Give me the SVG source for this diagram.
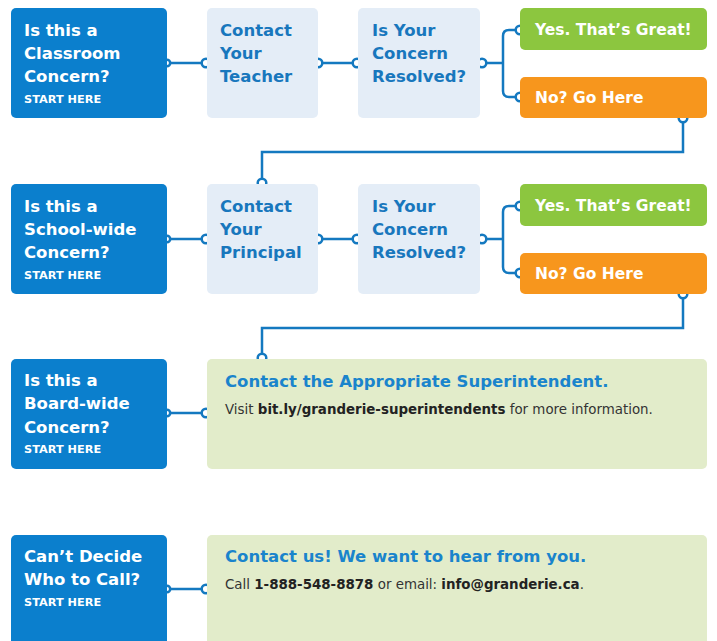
<svg xmlns="http://www.w3.org/2000/svg" width="717" height="641" viewBox="0 0 717 641">
<style>
.blue{fill:#0b7fcd}
.light{fill:#e4edf7}
.pale{fill:#e2ecca}
.green{fill:#8cc63f}
.orange{fill:#f7961d}
text{font-family:"DejaVu Sans","Liberation Sans",sans-serif;font-weight:bold}
.wt{fill:#ffffff;font-size:16.5px}
.sh{fill:#ffffff;font-size:11.3px}
.bt{fill:#1877bd;font-size:16.5px}
.ht{fill:#1a84cc;font-size:16.5px}
.st{fill:#333333;font-size:13.4px;font-weight:normal}
.st tspan.b{font-weight:bold;fill:#222222}
.ct{fill:#ffffff;font-size:15.5px}
.line{fill:none;stroke:#1479c0;stroke-width:2.5}
.dot{fill:#ffffff;stroke:#1479c0;stroke-width:2.5}
</style>
<rect width="717" height="641" fill="#ffffff"/>
<g id="connectors">
<path class="line" d="M167 63H206M318 63H357M482 63H503M520 30H509Q503 30 503 36V91Q503 97 509 97H520"/>
<path class="line" d="M683 118V152H262V183"/>
<path class="line" d="M167 239H206M318 239H357M482 239H503M520 206H509Q503 206 503 212V267Q503 273 509 273H520"/>
<path class="line" d="M683 294V328H262V358"/>
<path class="line" d="M167 413H206M167 589H206"/>
<circle class="dot" cx="167" cy="63" r="3.2"/><circle class="dot" cx="206" cy="63" r="4.3"/>
<circle class="dot" cx="318" cy="63" r="4.3"/><circle class="dot" cx="357" cy="63" r="4.3"/>
<circle class="dot" cx="482" cy="63" r="4.3"/>
<circle class="dot" cx="520" cy="30" r="4.3"/><circle class="dot" cx="520" cy="97" r="4.3"/>
<circle class="dot" cx="683" cy="118" r="4.3"/><circle class="dot" cx="262" cy="183" r="4.3"/>
<circle class="dot" cx="167" cy="239" r="3.2"/><circle class="dot" cx="206" cy="239" r="4.3"/>
<circle class="dot" cx="318" cy="239" r="4.3"/><circle class="dot" cx="357" cy="239" r="4.3"/>
<circle class="dot" cx="482" cy="239" r="4.3"/>
<circle class="dot" cx="520" cy="206" r="4.3"/><circle class="dot" cx="520" cy="273" r="4.3"/>
<circle class="dot" cx="683" cy="294" r="4.3"/><circle class="dot" cx="262" cy="358" r="4.3"/>
<circle class="dot" cx="167" cy="413" r="3.2"/><circle class="dot" cx="206" cy="413" r="4.3"/>
<circle class="dot" cx="167" cy="589" r="3.2"/><circle class="dot" cx="206" cy="589" r="4.3"/>
</g>
<g id="classroom">
<rect class="blue" x="11" y="8" width="156" height="110" rx="5"/>
<text class="wt" x="24" y="36">Is this a</text>
<text class="wt" x="24" y="59">Classroom</text>
<text class="wt" x="24" y="82">Concern?</text>
<text class="sh" x="24" y="103">START HERE</text>
</g>
<g id="teacher">
<rect class="light" x="207" y="8" width="111" height="110" rx="5"/>
<text class="bt" x="220" y="36">Contact</text>
<text class="bt" x="220" y="59">Your</text>
<text class="bt" x="220" y="82">Teacher</text>
</g>
<g id="resolved1">
<rect class="light" x="358" y="8" width="122" height="110" rx="5"/>
<text class="bt" x="372" y="36">Is Your</text>
<text class="bt" x="372" y="59">Concern</text>
<text class="bt" x="372" y="82">Resolved?</text>
</g>
<g id="yes1">
<rect class="green" x="520" y="8" width="187" height="42" rx="5"/>
<text class="ct" x="535" y="35">Yes. That’s Great!</text>
</g>
<g id="no1">
<rect class="orange" x="520" y="77" width="187" height="41" rx="5"/>
<text class="ct" x="535" y="103">No? Go Here</text>
</g>
<g id="schoolwide">
<rect class="blue" x="11" y="184" width="156" height="110" rx="5"/>
<text class="wt" x="24" y="212">Is this a</text>
<text class="wt" x="24" y="235">School-wide</text>
<text class="wt" x="24" y="258">Concern?</text>
<text class="sh" x="24" y="279">START HERE</text>
</g>
<g id="principal">
<rect class="light" x="207" y="184" width="111" height="110" rx="5"/>
<text class="bt" x="220" y="212">Contact</text>
<text class="bt" x="220" y="235">Your</text>
<text class="bt" x="220" y="258">Principal</text>
</g>
<g id="resolved2">
<rect class="light" x="358" y="184" width="122" height="110" rx="5"/>
<text class="bt" x="372" y="212">Is Your</text>
<text class="bt" x="372" y="235">Concern</text>
<text class="bt" x="372" y="258">Resolved?</text>
</g>
<g id="yes2">
<rect class="green" x="520" y="184" width="187" height="42" rx="5"/>
<text class="ct" x="535" y="211">Yes. That’s Great!</text>
</g>
<g id="no2">
<rect class="orange" x="520" y="253" width="187" height="41" rx="5"/>
<text class="ct" x="535" y="279">No? Go Here</text>
</g>
<g id="boardwide">
<rect class="blue" x="11" y="359" width="156" height="110" rx="5"/>
<text class="wt" x="24" y="386">Is this a</text>
<text class="wt" x="24" y="409">Board-wide</text>
<text class="wt" x="24" y="433">Concern?</text>
<text class="sh" x="24" y="453">START HERE</text>
</g>
<g id="superintendent">
<rect class="pale" x="207" y="359" width="500" height="110" rx="5"/>
<text class="ht" x="225" y="387">Contact the Appropriate Superintendent.</text>
<text class="st" x="225" y="414">Visit <tspan class="b">bit.ly/granderie-superintendents</tspan> for more information.</text>
</g>
<g id="cantdecide">
<rect class="blue" x="11" y="535" width="156" height="120" rx="5"/>
<text class="wt" x="24" y="562">Can’t Decide</text>
<text class="wt" x="24" y="585">Who to Call?</text>
<text class="sh" x="24" y="606">START HERE</text>
</g>
<g id="contactus">
<rect class="pale" x="207" y="535" width="500" height="120" rx="5"/>
<text class="ht" x="225" y="562">Contact us! We want to hear from you.</text>
<text class="st" x="225" y="589">Call <tspan class="b">1-888-548-8878</tspan> or email: <tspan class="b">info@granderie.ca</tspan>.</text>
</g>
</svg>
